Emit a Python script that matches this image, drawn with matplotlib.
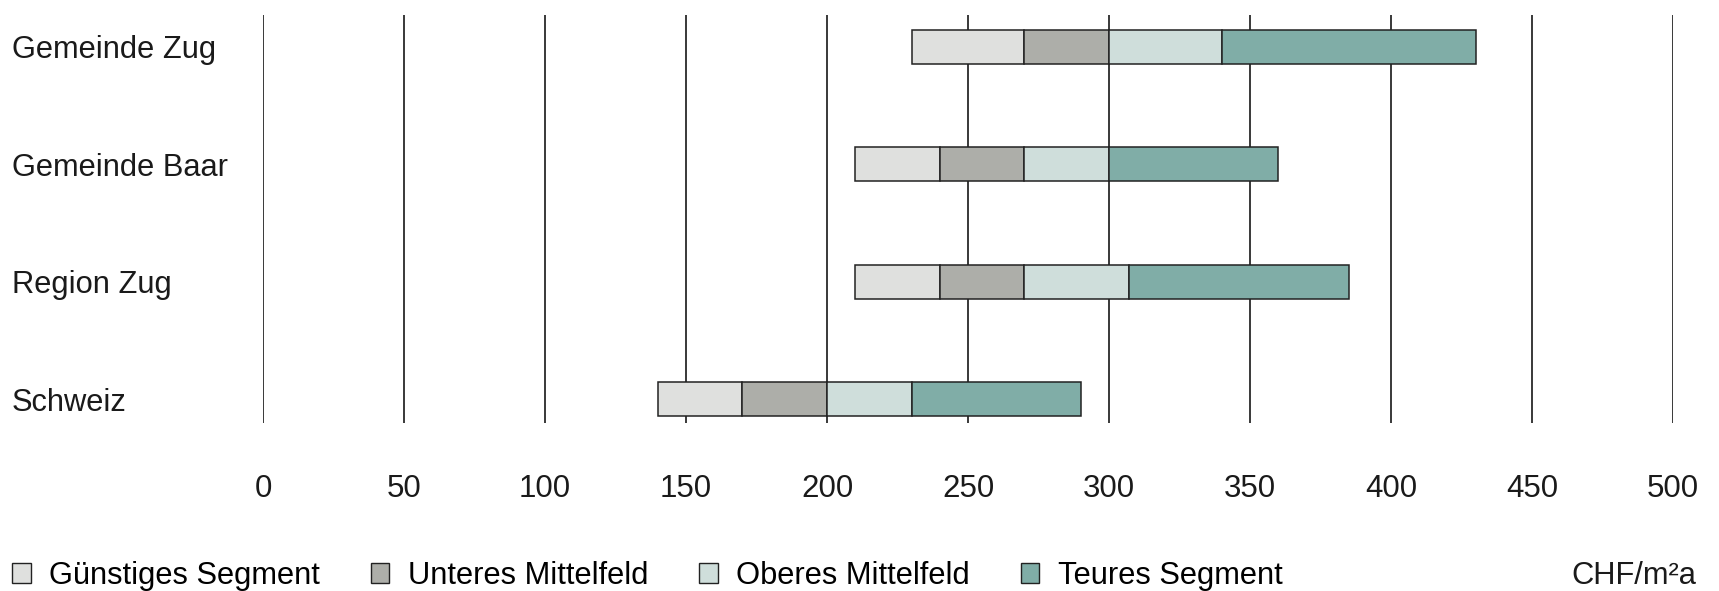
import matplotlib
matplotlib.use("Agg")
import matplotlib.pyplot as plt
from matplotlib.patches import Patch

plt.rcParams['font.family'] = ['Liberation Sans', 'DejaVu Sans']

categories = ["Gemeinde Zug", "Gemeinde Baar", "Region Zug", "Schweiz"]
# Rent level boundaries per region (CHF/m2a)
q_low = [230, 210, 210, 140]
q_lower_mid = [270, 240, 240, 170]
q_median = [300, 270, 270, 200]
q_upper_mid = [340, 300, 307, 230]
q_high = [430, 360, 385, 290]

segment_names = ["Günstiges Segment", "Unteres Mittelfeld", "Oberes Mittelfeld", "Teures Segment"]
segment_colors = ["#dfe0de", "#adaea9", "#cfdedb", "#80ada7"]
x_ticks = [0, 50, 100, 150, 200, 250, 300, 350, 400, 450, 500]
unit_label = "CHF/m²a"

W, H = 1719, 591
fig = plt.figure(figsize=(W / 100, H / 100), dpi=100)
ax = fig.add_axes([263 / W, 1 - 423 / H, (1673 - 263) / W, (423 - 15) / H])

y_pos = [3, 2, 1, 0]
bounds = [q_low, q_lower_mid, q_median, q_upper_mid, q_high]
for i in range(4):
    lefts = bounds[i]
    widths = [b - a for a, b in zip(bounds[i], bounds[i + 1])]
    ax.barh(y_pos, widths, left=lefts, height=0.29, color=segment_colors[i],
            edgecolor="#222222", linewidth=1.1, zorder=3)

ax.set_xlim(0, 500)
ax.set_ylim(-0.204, 3.27)
ax.set_xticks(x_ticks)
ax.set_xticklabels([str(t) for t in x_ticks])
ax.set_yticks(y_pos)
ax.set_yticklabels(categories)
for lbl in ax.get_yticklabels():
    lbl.set_horizontalalignment('left')
ax.tick_params(axis='y', length=0, pad=180.7, labelsize=22.2, labelcolor="#1a1a1a")
ax.tick_params(axis='x', length=0, pad=37, labelsize=22.5, labelcolor="#1a1a1a")
ax.grid(axis='x', color="#2a2a2a", linewidth=1.3, zorder=0)
ax.grid(axis='y', visible=False)
for s in ax.spines.values():
    s.set_visible(False)

handles = [Patch(facecolor=c, edgecolor="#222222", linewidth=1.0) for c in segment_colors]
fig.legend(handles, segment_names, loc='center left', bbox_to_anchor=(12 / W, 1 - 576 / H),
           ncol=4, frameon=False, fontsize=22.2, handlelength=0.6, handleheight=0.6,
           handletextpad=0.6, columnspacing=1.65, borderaxespad=0, borderpad=0)
fig.text(1696 / W, 1 - 576 / H, unit_label, ha='right', va='center', fontsize=22.2, color="#1a1a1a")

fig.savefig("out.png", dpi=100)
